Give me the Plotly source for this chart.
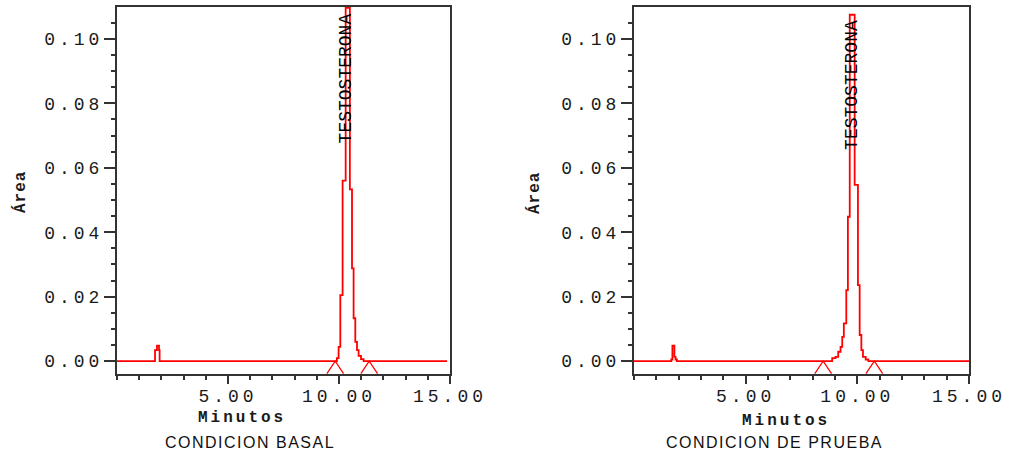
import plotly.graph_objects as go

# Basal run: retention time (min) vs area
basal_time = [0.0, 1.694, 1.712, 1.802, 1.892, 1.919,
              9.905, 9.982, 10.059, 10.162, 10.30, 10.49, 10.586, 10.658,
              10.734, 10.811, 10.883, 10.991, 11.108, 14.87]
basal_area = [0.0, 0.0, 0.0034, 0.0048, 0.0034, 0.0,
              0.0009, 0.0044, 0.0205, 0.056, 0.1096, 0.0533, 0.0288, 0.0133,
              0.006, 0.0034, 0.0016, 0.0006, 0.0, 0.0]

# Test run: retention time (min) vs area
test_time = [0.0, 1.67, 1.72, 1.81, 1.86, 1.92,
             8.874, 9.023, 9.144, 9.248, 9.324, 9.396, 9.505, 9.577, 9.66,
             9.88, 10.027, 10.104, 10.180, 10.252, 10.374, 10.495, 15.0]
test_area = [0.0, 0.0005, 0.0048, 0.0013, 0.0005, 0.0,
             0.0009, 0.0013, 0.0029, 0.0044, 0.0075, 0.0117, 0.022, 0.0448, 0.1075,
             0.0547, 0.0236, 0.0081, 0.0034, 0.0013, 0.0005, 0.0, 0.0]

# Integration start/end marks
basal_marks = [9.83, 11.36]
test_marks = [8.47, 10.76]
mark_half_width = 0.375
mark_depth = 0.0039

# Peak labels
peak_name = "TESTOSTERONA"
basal_label_pos = (10.31, 0.0877)
test_label_pos = (9.757, 0.0857)

panel_titles = ["CONDICION BASAL", "CONDICION DE PRUEBA"]

y_tickvals = [0.0, 0.02, 0.04, 0.06, 0.08, 0.10]
y_ticktext = ["0.00", "0.02", "0.04", "0.06", "0.08", "0.10"]
x_tickvals = [5, 10, 15]
x_ticktext = ["5.00", "10.00", "15.00"]

RED = "#ff0000"
AXIS = "#333333"
MONO = "Liberation Mono, DejaVu Sans Mono, monospace"
SANS = "Liberation Sans, Arial, sans-serif"


def spaced(txt, px):
    return f'<span style="letter-spacing:{px}px">{txt}</span>'


def mark_lines(marks):
    xs, ys = [], []
    for m in marks:
        xs += [m - mark_half_width, m, m + mark_half_width, None]
        ys += [-mark_depth, 0.0, -mark_depth, None]
    return xs, ys


fig = go.Figure()

panels = [
    ("x", "y", basal_time, basal_area, basal_marks, basal_label_pos),
    ("x2", "y2", test_time, test_area, test_marks, test_label_pos),
]
for xa, ya, t, a, marks, lp in panels:
    fig.add_trace(go.Scatter(x=t, y=a, mode="lines", line=dict(color=RED, width=1.8, shape="hv"),
                             xaxis=xa, yaxis=ya, showlegend=False, hoverinfo="skip"))
    mx, my = mark_lines(marks)
    fig.add_trace(go.Scatter(x=mx, y=my, mode="lines", line=dict(color=RED, width=1.2),
                             xaxis=xa, yaxis=ya, showlegend=False, hoverinfo="skip",
                             connectgaps=False))
    fig.add_annotation(x=lp[0], y=lp[1], xref=xa, yref=ya, text=peak_name, textangle=-90,
                       xanchor="center", yanchor="middle",
                       showarrow=False, font=dict(family=MONO, size=18, color="#000"))

x_domains = [[117 / 1011, 450 / 1011], [634 / 1011, 969 / 1011]]
y_domain = [(457 - 374) / 457, (457 - 7) / 457]

common_x = dict(range=[0, 15], showline=True, linecolor=AXIS, linewidth=2, mirror=True,
                showgrid=False, zeroline=False, automargin=False,
                ticks="outside", ticklen=8, tickwidth=1.5, ticklabelstandoff=-4,
                tickcolor=AXIS, tickvals=x_tickvals,
                ticktext=[spaced(s, 4) for s in x_ticktext],
                tickfont=dict(family=MONO, size=18, color="#1a1a1a"),
                minor=dict(dtick=1, tick0=0, ticks="outside", ticklen=4, tickwidth=1.5,
                           tickcolor=AXIS, showgrid=False))
common_y = dict(range=[-0.0040, 0.1099], domain=y_domain, showline=True, linecolor=AXIS,
                linewidth=2, mirror=True, showgrid=False, zeroline=False, automargin=False,
                ticks="outside", ticklen=11, tickwidth=1.5, tickcolor=AXIS,
                tickvals=y_tickvals, ticklabelstandoff=-3,
                ticktext=[spaced(s, 4) for s in y_ticktext],
                tickfont=dict(family=MONO, size=18, color="#1a1a1a"),
                minor=dict(dtick=0.005, tick0=0, ticks="outside", ticklen=4, tickwidth=1.5,
                           tickcolor=AXIS, showgrid=False))

fig.update_layout(
    width=1011, height=457,
    margin=dict(l=0, r=0, t=0, b=0, pad=0, autoexpand=False),
    paper_bgcolor="white", plot_bgcolor="white",
    xaxis=dict(common_x, domain=x_domains[0], anchor="y"),
    yaxis=dict(common_y, anchor="x"),
    xaxis2=dict(common_x, domain=x_domains[1], anchor="y2"),
    yaxis2=dict(common_y, anchor="x2"),
)

# Axis titles and panel captions
for cx_min, cx_cap, area_x, area_y, min_y, title in [
    (242, 250, 20, 192, 418, panel_titles[0]),
    (786, 774, 534, 193, 421, panel_titles[1]),
]:
    fig.add_annotation(x=area_x / 1011, y=1 - area_y / 457, xref="paper", yref="paper",
                       xanchor="center", yanchor="middle",
                       text=spaced("Área", 1), textangle=-90, showarrow=False,
                       font=dict(family=MONO, size=16, color="#1a1a1a", weight="bold"))
    fig.add_annotation(x=cx_min / 1011, y=1 - min_y / 457, xref="paper", yref="paper",
                       xanchor="center", yanchor="middle",
                       text=spaced("Minutos", 3), showarrow=False,
                       font=dict(family=MONO, size=16, color="#1a1a1a", weight="bold"))
    fig.add_annotation(x=cx_cap / 1011, y=1 - 442 / 457, xref="paper", yref="paper",
                       xanchor="center", yanchor="middle",
                       text=spaced(title, 1.5), showarrow=False,
                       font=dict(family=SANS, size=16, color="#111"))

fig.write_html("out.html")
